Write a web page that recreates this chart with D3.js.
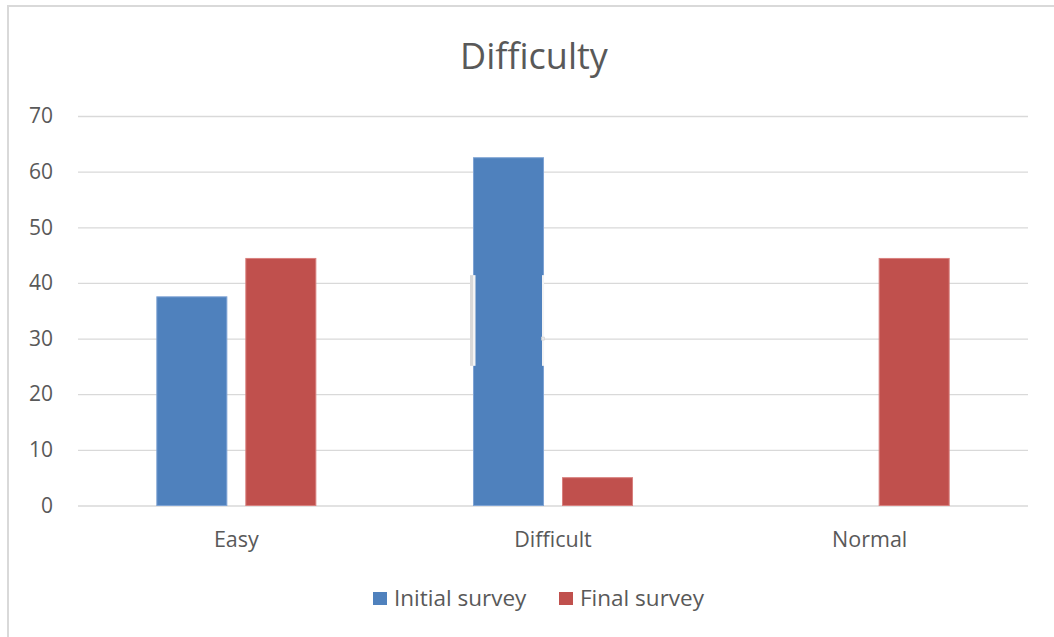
<!DOCTYPE html>
<html>
<head>
<meta charset="utf-8">
<script src="https://cdn.jsdelivr.net/npm/d3@7"></script>
<style>
  html, body { margin: 0; padding: 0; background: #fff; }
  svg { display: block; font-family: "Open Sans", "Noto Sans", sans-serif; }
</style>
</head>
<body>
<svg id="chart" width="1054" height="637"></svg>
<script>
// Survey answers about difficulty, percent of respondents
const categories = ["Easy", "Difficult", "Normal"];
const seriesNames = ["Initial survey", "Final survey"];
const initialSurvey = [37.5, 62.5, 0];
const finalSurvey = [44.4, 5, 44.4];
const yTicks = [0, 10, 20, 30, 40, 50, 60, 70];
const seriesColors = ["#4f81bd", "#c0504d"];
const seriesEdges = ["#7ea3d4", "#d8807e"];

const svg = d3.select("#chart");
const W = 1054, H = 637;
const plot = { left: 78, right: 1028, top: 116, bottom: 505.5 };
const textColor = "#595959";

// chart frame (left and top edges)
svg.append("path")
  .attr("d", `M8,${H} L8,6 L${W},6`)
  .attr("fill", "none")
  .attr("stroke", "#d9d9d9")
  .attr("stroke-width", 2);

const x = d3.scaleBand().domain(categories).range([plot.left, plot.right]).paddingInner(0).paddingOuter(0);
const x1 = d3.scaleBand().domain(seriesNames).range([0, x.bandwidth()]).paddingInner(0.202).paddingOuter(0.88);
const y = d3.scaleLinear().domain([0, 70]).range([plot.bottom, plot.top]);

// gridlines + y labels
const yAxis = d3.axisLeft(y).tickValues(yTicks).tickSize(-(plot.right - plot.left)).tickPadding(25);
const gy = svg.append("g").attr("transform", `translate(${plot.left},0)`).call(yAxis);
gy.select(".domain").remove();
gy.selectAll(".tick line").attr("stroke", "#d9d9d9").attr("stroke-width", 1.3);
gy.selectAll(".tick text")
  .attr("fill", textColor)
  .style("font-size", "21px")
  .style("font-family", "'Open Sans', sans-serif");

// x category labels
const xAxis = d3.axisBottom(x).tickSize(0).tickPadding(0);
const gx = svg.append("g").attr("transform", `translate(0,${plot.bottom})`).call(xAxis);
gx.select(".domain").remove();
gx.selectAll(".tick text")
  .attr("y", 41.5)
  .attr("dy", 0)
  .attr("fill", textColor)
  .style("font-size", "21.5px")
  .style("font-family", "'Open Sans', sans-serif");

// bars
const rows = categories.map((c, i) => ({
  cat: c,
  vals: [
    { s: seriesNames[0], v: initialSurvey[i], k: 0 },
    { s: seriesNames[1], v: finalSurvey[i], k: 1 }
  ]
}));
const groups = svg.append("g").selectAll("g").data(rows).join("g")
  .attr("transform", d => `translate(${x(d.cat)},0)`);
groups.selectAll("rect").data(d => d.vals.filter(e => e.v > 0)).join("rect")
  .attr("x", d => x1(d.s) + 0.5)
  .attr("y", d => y(d.v))
  .attr("width", x1.bandwidth() - 1)
  .attr("height", d => y(0) - y(d.v))
  .attr("fill", d => seriesColors[d.k])
  .attr("stroke", d => seriesEdges[d.k])
  .attr("stroke-width", 1);

// selection handles on the tall "Difficult" bar
const selBar = rows[1].vals[0];
const selX0 = x("Difficult") + x1(selBar.s);
const selX1 = selX0 + x1.bandwidth();
const selTop = y(41.4), selBot = y(25.1);
svg.append("rect").attr("x", selX0 - 3).attr("y", selTop).attr("width", 3).attr("height", selBot - selTop).attr("fill", "#d9d9d9");
svg.append("rect").attr("x", selX0).attr("y", selTop).attr("width", 2.5).attr("height", selBot - selTop).attr("fill", "#f4f4f4");
svg.append("rect").attr("x", selX1 - 2).attr("y", selTop).attr("width", 2).attr("height", selBot - selTop).attr("fill", "#f4f4f4");
svg.append("rect").attr("x", selX1 - 2.5).attr("y", y(30) - 1.5).attr("width", 3).attr("height", 3).attr("fill", "#e8e8e8").attr("stroke", "#cfcfcf").attr("stroke-width", 0.6);

// title
svg.append("text")
  .attr("x", 534).attr("y", 69)
  .attr("text-anchor", "middle")
  .attr("fill", textColor)
  .style("font-size", "36px")
  .text("Difficulty");

// legend
const legendItems = [
  { name: seriesNames[0], color: seriesColors[0], x: 373 },
  { name: seriesNames[1], color: seriesColors[1], x: 559 }
];
const lg = svg.append("g").selectAll("g").data(legendItems).join("g")
  .attr("transform", d => `translate(${d.x},0)`);
lg.append("rect").attr("x", 0).attr("y", 592).attr("width", 14).attr("height", 13).attr("fill", d => d.color);
lg.append("text")
  .attr("x", 21).attr("y", 598.5)
  .attr("dy", "0.35em")
  .attr("fill", textColor)
  .style("font-size", "22.5px")
  .text(d => d.name);
</script>
</body>
</html>
